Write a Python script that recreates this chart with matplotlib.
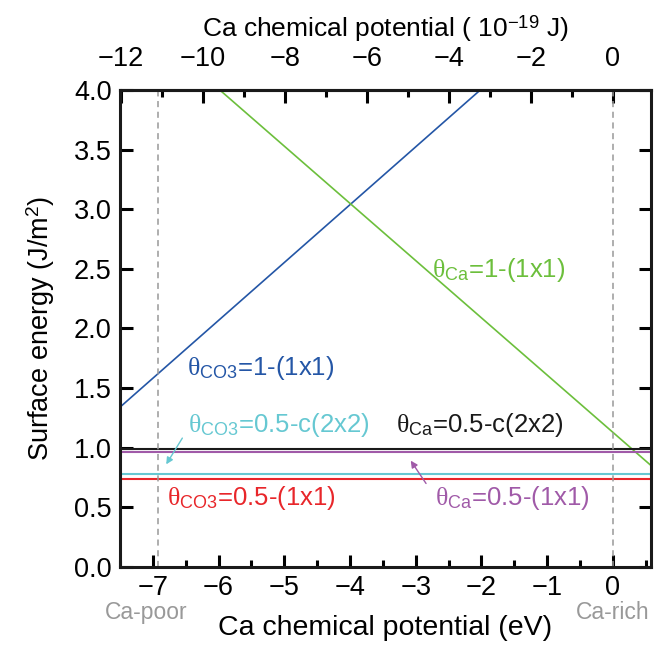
import matplotlib
matplotlib.use("Agg")
import matplotlib.pyplot as plt
import matplotlib.transforms as mtransforms

EV_TO_J = 1.602  # 1 eV in 10^-19 J

# endpoints (eV, J/m^2)
blue_mu = [-7.5, -2.02]
blue_e = [1.34, 4.0]
green_mu = [-5.98, 0.58]
green_e = [4.0, 0.85]
flat_mu = [-7.5, 0.58]
black_e = [0.99, 0.99]
purple_e = [0.965, 0.965]
cyan_e = [0.78, 0.78]
red_e = [0.74, 0.74]

mu_poor = -6.92
mu_rich = 0.0

plt.rcParams['font.family'] = ['Liberation Sans', 'DejaVu Sans']
plt.rcParams['mathtext.fontset'] = 'custom'
plt.rcParams['mathtext.rm'] = 'Liberation Serif'
plt.rcParams['mathtext.sf'] = 'Liberation Sans'
plt.rcParams['mathtext.it'] = 'Liberation Serif:italic'

tick_size = 19.5

fig = plt.figure(figsize=(6.67, 6.53), dpi=100)
ax = fig.add_axes([0.18, 0.132, 0.796, 0.730])

ax.plot(blue_mu, blue_e, color='#2456a6', lw=1.2)
ax.plot(green_mu, green_e, color='#6cbf3c', lw=1.2)
ax.plot(flat_mu, black_e, color='#1a1a1a', lw=1.5)
ax.plot(flat_mu, purple_e, color='#a05aa8', lw=1.5)
ax.plot(flat_mu, cyan_e, color='#66c8d2', lw=1.5)
ax.plot(flat_mu, red_e, color='#e8262a', lw=1.5)

ax.axvline(mu_poor, color='#999999', lw=1.1, ls=(0, (4, 3)))
ax.axvline(mu_rich, color='#999999', lw=1.1, ls=(0, (4, 3)))

ax.set_xlim(-7.5, 0.58)
ax.set_ylim(0, 4.0)
ax.set_xticks(range(-7, 1))
ax.set_xticks([x + 0.5 for x in range(-8, 1)], minor=True)
ax.set_yticks([i * 0.5 for i in range(9)])
ax.set_yticklabels(['%.1f' % (i * 0.5) for i in range(9)])
ax.set_xticklabels(['\u2212%d' % -x if x < 0 else '0' for x in range(-7, 1)])

for lab in ax.get_xticklabels() + ax.get_yticklabels():
    lab.set_fontsize(tick_size)

ax.tick_params(which='both', direction='in', width=2.2, right=True)
ax.tick_params(which='major', length=9)
ax.tick_params(which='minor', length=5)
ax.tick_params(axis='x', which='major', pad=6)
ax.tick_params(axis='y', which='major', pad=6)
for sp in ax.spines.values():
    sp.set_linewidth(2.2)
    sp.set_color('#1a1a1a')

ax.set_xlabel('Ca chemical potential (eV)', fontsize=20.5, labelpad=10)
ax.set_ylabel('Surface energy (J/m$^{\\mathsf{2}}$)', fontsize=19.5, labelpad=12)

top = ax.secondary_xaxis('top', functions=(lambda x: x * EV_TO_J, lambda x: x / EV_TO_J))
top.set_xticks(range(-12, 1, 2))
top.set_xticks(range(-11, 1, 2), minor=True)
top.set_xticklabels(['\u2212%d' % -x if x < 0 else '0' for x in range(-12, 1, 2)])
for lab in top.get_xticklabels():
    lab.set_fontsize(tick_size)
top.tick_params(which='both', direction='in', width=2.2)
top.tick_params(which='major', length=9, pad=13)
top.tick_params(which='minor', length=5)
top.spines['top'].set_linewidth(2.2)
top.set_xlabel('Ca chemical potential ( 10$^{\\mathsf{-19}}$ J)', fontsize=19, labelpad=7)

# labels
fs = 18.5
ax.text(-6.48, 1.61, r'$\mathrm{\theta}_{\mathsf{CO3}}$=1-(1x1)', color='#2456a6', fontsize=fs)
ax.text(-2.75, 2.43, r'$\mathrm{\theta}_{\mathsf{Ca}}$=1-(1x1)', color='#6cbf3c', fontsize=fs)
ax.text(-6.47, 1.13, r'$\mathrm{\theta}_{\mathsf{CO3}}$=0.5-c(2x2)', color='#66c8d2', fontsize=fs)
ax.text(-3.30, 1.13, r'$\mathrm{\theta}_{\mathsf{Ca}}$=0.5-c(2x2)', color='#1a1a1a', fontsize=fs)
ax.text(-6.79, 0.52, r'$\mathrm{\theta}_{\mathsf{CO3}}$=0.5-(1x1)', color='#e8262a', fontsize=fs)
ax.text(-2.71, 0.52, r'$\mathrm{\theta}_{\mathsf{Ca}}$=0.5-(1x1)', color='#a05aa8', fontsize=fs)

ax.annotate('', xy=(-6.82, 0.84), xytext=(-6.53, 1.10),
            arrowprops=dict(arrowstyle='-|>', color='#66c8d2', lw=1.0, mutation_scale=10))
ax.annotate('', xy=(-3.10, 0.91), xytext=(-2.82, 0.68),
            arrowprops=dict(arrowstyle='-|>', color='#a05aa8', lw=1.0, mutation_scale=10))

trans = mtransforms.blended_transform_factory(ax.transData, ax.transAxes)
ax.text(-7.1, -0.096, 'Ca-poor', color='#999999', fontsize=16.5, ha='center', va='center',
        transform=trans)
ax.text(0.0, -0.096, 'Ca-rich', color='#999999', fontsize=16.5, ha='center', va='center',
        transform=trans)

fig.savefig('out.png', dpi=100)
